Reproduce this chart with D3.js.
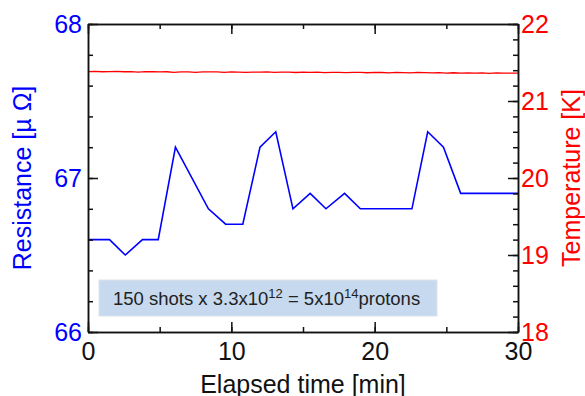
<!DOCTYPE html>
<html>
<head>
<meta charset="utf-8">
<script src="https://cdn.jsdelivr.net/npm/d3@7"></script>
<style>
  body { margin: 0; background: #fff; }
  svg { display: block; font-family: "Liberation Sans", Arial, sans-serif; }
  .axis path, .axis line { stroke: #111; stroke-width: 1.5px; }
</style>
</head>
<body>
<div id="chart"></div>
<script>
// resistance (blue, left axis)
var resTime = [0, 1.5, 2.6, 3.8, 4.9, 6.1, 8.4, 9.6, 10.8, 12.0, 13.1, 14.3, 15.5, 16.6, 17.9, 19.0, 22.6, 23.7, 24.8, 26.0, 30];
var resVal  = [66.6, 66.6, 66.5, 66.6, 66.6, 67.2, 66.8, 66.7, 66.7, 67.2, 67.3, 66.8, 66.9, 66.8, 66.9, 66.8, 66.8, 67.3, 67.2, 66.9, 66.9];

// temperature (red, right axis), one reading every half minute
var tempTime = [0,0.5,1,1.5,2,2.5,3,3.5,4,4.5,5,5.5,6,6.5,7,7.5,8,8.5,9,9.5,
  10,10.5,11,11.5,12,12.5,13,13.5,14,14.5,15,15.5,16,16.5,17,17.5,18,18.5,19,19.5,
  20,20.5,21,21.5,22,22.5,23,23.5,24,24.5,25,25.5,26,26.5,27,27.5,28,28.5,29,29.5,30];
var tempVal = [21.381,21.386,21.380,21.381,21.384,21.380,21.381,21.376,21.381,21.380,
  21.378,21.380,21.373,21.379,21.378,21.372,21.379,21.377,21.378,21.371,
  21.377,21.376,21.372,21.376,21.375,21.378,21.371,21.375,21.374,21.370,
  21.375,21.371,21.374,21.369,21.373,21.372,21.368,21.373,21.371,21.367,
  21.371,21.370,21.366,21.371,21.369,21.365,21.372,21.368,21.364,21.368,
  21.363,21.367,21.361,21.366,21.362,21.365,21.360,21.364,21.362,21.362,21.362];

var xTicks = [0, 10, 20, 30];
var resTicks = [66, 67, 68];
var tempTicks = [18, 19, 20, 21, 22];

var width = 585, height = 396;
var plot = {left: 88, right: 518, top: 24, bottom: 332};

var svg = d3.select("#chart").append("svg")
  .attr("width", width)
  .attr("height", height);

var x = d3.scaleLinear().domain([0, 30]).range([plot.left, plot.right]);
var yL = d3.scaleLinear().domain([66, 68]).range([plot.bottom, plot.top]);
var yR = d3.scaleLinear().domain([18, 22]).range([plot.bottom, plot.top]);

// note box
var box = svg.append("g");
box.append("rect")
  .attr("x", 99).attr("y", 280)
  .attr("width", 338).attr("height", 36)
  .attr("fill", "#c6d9ef")
  .attr("stroke", "#dde3ea");
var note = box.append("text")
  .attr("x", 113).attr("y", 305)
  .attr("font-size", 18.5)
  .attr("fill", "#222");
note.append("tspan").text("150 shots x 3.3x10");
note.append("tspan").attr("font-size", 13).attr("dy", -7).text("12");
note.append("tspan").attr("dy", 7).text(" = 5x10");
note.append("tspan").attr("font-size", 13).attr("dy", -7).text("14");
note.append("tspan").attr("dy", 7).text("protons");

// data lines
var tempLine = d3.line()
  .x(function(d, i){ return x(tempTime[i]); })
  .y(function(d){ return yR(d); });
svg.append("path")
  .datum(tempVal)
  .attr("d", tempLine)
  .attr("fill", "none")
  .attr("stroke", "#ff0000")
  .attr("stroke-width", 1.3);

var resLine = d3.line()
  .x(function(d, i){ return x(resTime[i]); })
  .y(function(d){ return yL(d); });
svg.append("path")
  .datum(resVal)
  .attr("d", resLine)
  .attr("fill", "none")
  .attr("stroke", "#0000ff")
  .attr("stroke-width", 1.6);

// axes - ticks all point inward
function minor(ax, vals) {
  return ax.tickValues(vals).tickSize(-5).tickSizeOuter(0).tickFormat("");
}

svg.append("g").attr("class", "axis")
  .attr("transform", "translate(0," + plot.bottom + ")")
  .call(minor(d3.axisBottom(x), x.ticks(6)));
svg.append("g").attr("class", "axis")
  .attr("transform", "translate(0," + plot.bottom + ")")
  .call(d3.axisBottom(x).tickValues(xTicks).tickSize(-10).tickSizeOuter(0).tickPadding(10))
  .selectAll("text").attr("font-size", 25).attr("fill", "#111");

svg.append("g").attr("class", "axis")
  .attr("transform", "translate(0," + plot.top + ")")
  .call(minor(d3.axisTop(x), x.ticks(6)));
svg.append("g").attr("class", "axis")
  .attr("transform", "translate(0," + plot.top + ")")
  .call(d3.axisTop(x).tickValues(xTicks).tickSize(-10).tickSizeOuter(0).tickFormat(""));

svg.append("g").attr("class", "axis")
  .attr("transform", "translate(" + plot.left + ",0)")
  .call(minor(d3.axisLeft(yL), yL.ticks(10)));
svg.append("g").attr("class", "axis")
  .attr("transform", "translate(" + plot.left + ",0)")
  .call(d3.axisLeft(yL).tickValues(resTicks).tickSize(-10).tickSizeOuter(0).tickPadding(6).tickFormat(d3.format("d")))
  .selectAll("text").attr("font-size", 25).attr("fill", "#0000ff");

svg.append("g").attr("class", "axis")
  .attr("transform", "translate(" + plot.right + ",0)")
  .call(minor(d3.axisRight(yR), yR.ticks(20)));
svg.append("g").attr("class", "axis")
  .attr("transform", "translate(" + plot.right + ",0)")
  .call(d3.axisRight(yR).tickValues(tempTicks).tickSize(-10).tickSizeOuter(0).tickPadding(3).tickFormat(d3.format("d")))
  .selectAll("text").attr("font-size", 25).attr("fill", "#ff0000");

svg.selectAll(".axis .domain").attr("stroke-width", 1.5);

// titles
svg.append("text")
  .attr("transform", "translate(31," + (plot.top + plot.bottom) / 2 + ") rotate(-90)")
  .attr("text-anchor", "middle")
  .attr("font-size", 25)
  .attr("fill", "#0000ff")
  .text("Resistance [\u00b5 \u03a9]");

svg.append("text")
  .attr("transform", "translate(580," + (plot.top + plot.bottom) / 2 + ") rotate(-90)")
  .attr("text-anchor", "middle")
  .attr("font-size", 25)
  .attr("fill", "#ff0000")
  .text("Temperature [K]");

svg.append("text")
  .attr("x", (plot.left + plot.right) / 2)
  .attr("y", 393)
  .attr("text-anchor", "middle")
  .attr("font-size", 25)
  .attr("fill", "#111")
  .text("Elapsed time [min]");
</script>
</body>
</html>
